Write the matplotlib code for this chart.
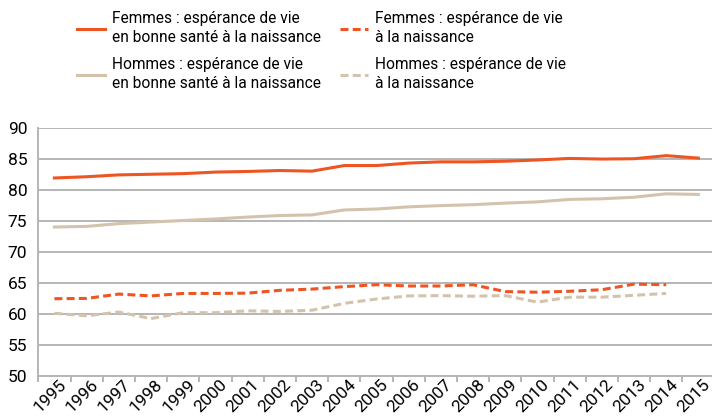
import matplotlib.pyplot as plt
import matplotlib.transforms as mtransforms
import numpy as np

years = list(range(1995, 2016))
femmes_bonne_sante = [81.9, 82.1, 82.4, 82.5, 82.6, 82.85, 82.95, 83.1, 83.0, 83.9,
                      83.9, 84.3, 84.5, 84.5, 84.6, 84.8, 85.05, 84.95, 85.0, 85.5, 85.1]
hommes_bonne_sante = [74.0, 74.1, 74.55, 74.8, 75.05, 75.3, 75.6, 75.85, 75.95, 76.75,
                      76.9, 77.25, 77.45, 77.6, 77.85, 78.05, 78.45, 78.55, 78.8, 79.35, 79.25]
femmes_naissance = [62.45, 62.5, 63.2, 62.9, 63.3, 63.3, 63.35, 63.8, 64.0, 64.4,
                    64.7, 64.5, 64.5, 64.7, 63.6, 63.5, 63.65, 63.9, 64.8, 64.7, np.nan]
hommes_naissance = [60.1, 59.7, 60.3, 59.25, 60.2, 60.2, 60.5, 60.4, 60.6, 61.7,
                    62.4, 62.9, 62.95, 62.85, 62.95, 61.9, 62.7, 62.7, 63.0, 63.3, np.nan]

labels = ['Femmes : espérance de vie\nen bonne santé à la naissance',
          'Hommes : espérance de vie\nen bonne santé à la naissance',
          'Femmes : espérance de vie\nà la naissance',
          'Hommes : espérance de vie\nà la naissance']

orange = '#EE5523'
tan = '#D3C3AC'
grey = '#B5B5B5'

plt.rcParams['font.family'] = ['Roboto', 'DejaVu Sans']

fig = plt.figure(figsize=(7.12, 4.17), dpi=100)
ax = fig.add_axes([38.3 / 712, 1 - 376 / 417, (712 - 38.3) / 712, (376 - 127.7) / 417])

l1, = ax.plot(years, femmes_bonne_sante, color=orange, lw=2.2)
l3, = ax.plot(years, hommes_bonne_sante, color=tan, lw=2.2)
l2, = ax.plot(years, femmes_naissance, color=orange, lw=2.2, dashes=(2.6, 1.4))
l4, = ax.plot(years, hommes_naissance, color=tan, lw=2.2, dashes=(2.6, 1.4))

ax.set_xlim(1994.5, 1994.5 + (712 - 38.3) / 32.2)
ax.set_ylim(50, 90)
ax.set_yticks(range(50, 91, 5))
ax.yaxis.grid(True, color=grey, lw=1.4)
ax.set_axisbelow(True)
for s in ['top', 'right']:
    ax.spines[s].set_visible(False)
for s in ['left', 'bottom']:
    ax.spines[s].set_color(grey)
    ax.spines[s].set_linewidth(1.4)

ax.set_xticks(years)
ax.set_xticklabels([str(y) for y in years], rotation=45, ha='right', rotation_mode='anchor')
ax.set_xticks(np.arange(1994.5, 2015.4, 1), minor=True)
ax.tick_params(axis='x', which='major', length=0, pad=0.5, labelsize=12.5)
ax.tick_params(axis='x', which='minor', length=4.5, width=1.4, color=grey)
ax.tick_params(axis='y', length=0, pad=8, labelsize=12.5)
offset = mtransforms.ScaledTranslation(4 / 100, 0, fig.dpi_scale_trans)
for t in ax.get_xticklabels():
    t.set_transform(t.get_transform() + offset)

leg = fig.legend([l1, l3, l2, l4], labels,
                 ncol=2, loc='upper left', bbox_to_anchor=(77 / 712, 1 - 11 / 417),
                 frameon=False, borderpad=0, borderaxespad=0,
                 fontsize=11.2, handlelength=1.8, handletextpad=0.45, columnspacing=1.2,
                 labelspacing=0.75)
for t in leg.get_texts():
    t.set_linespacing(1.35)

fig.savefig('out.png', dpi=100)
